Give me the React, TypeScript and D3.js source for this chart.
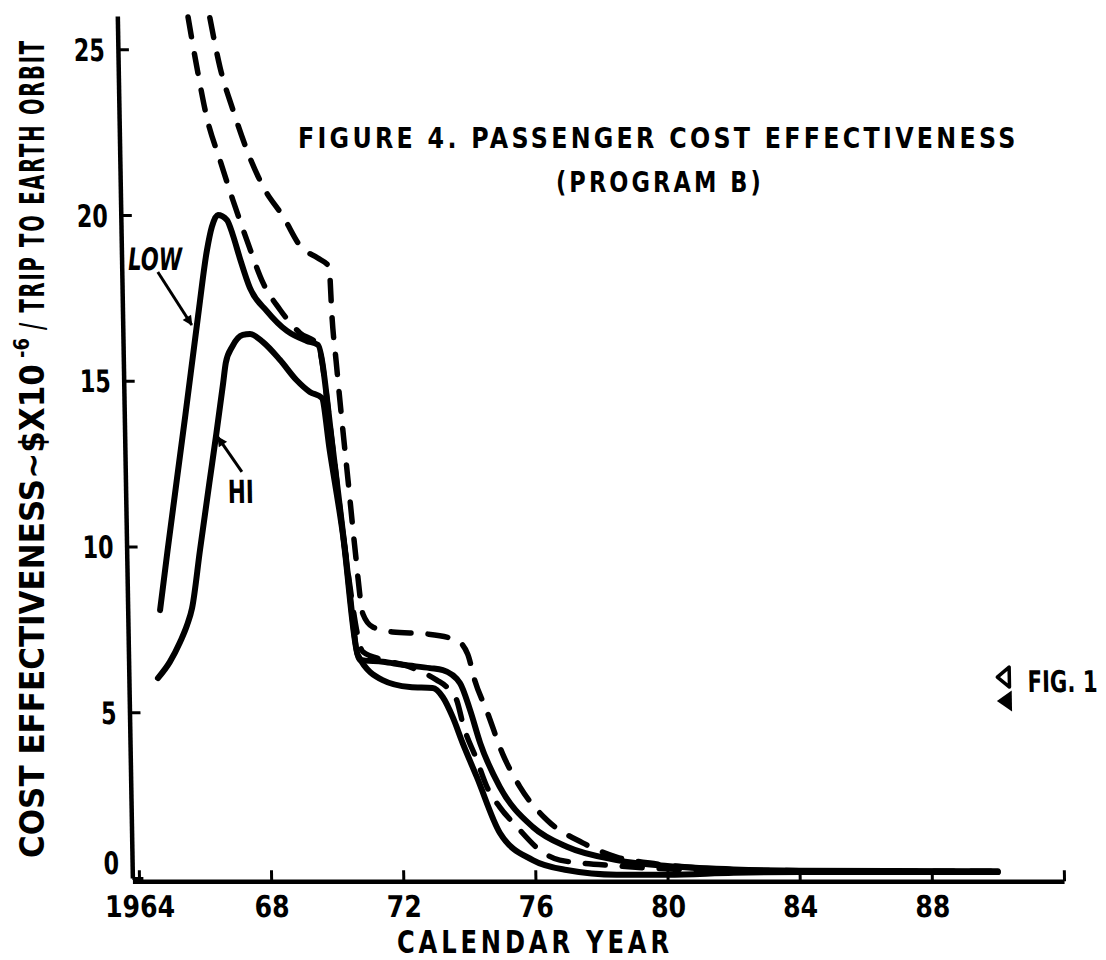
import * as d3 from 'd3';
import { useEffect, useRef } from 'react';

// LOW traffic curve (solid)
const lowYears = [1964.78, 1965.04, 1965.65, 1966.09, 1966.39, 1966.55, 1966.74, 1967.01, 1967.18, 1967.38, 1967.67, 1968.17, 1968.77, 1969.36, 1969.7, 1970.1, 1970.41, 1970.8, 1971.5, 1972.1, 1972.92, 1973.31, 1973.82, 1974.11, 1974.4, 1974.97, 1975.95, 1976.97, 1978.47, 1980.0, 1982.0, 1984.0, 1990.0];
const lowValues = [8.08, 9.89, 13.97, 16.98, 18.94, 19.64, 20.0, 19.85, 19.4, 18.7, 17.8, 17.1, 16.5, 16.2, 16.08, 12.9, 9.9, 6.58, 6.52, 6.43, 6.33, 6.27, 5.88, 5.07, 4.07, 2.75, 1.54, 0.94, 0.54, 0.36, 0.26, 0.22, 0.2];

// HI traffic curve (solid)
const hiYears = [1964.68, 1965.05, 1965.37, 1965.59, 1965.75, 1966.02, 1966.34, 1966.58, 1966.81, 1966.9, 1967.1, 1967.43, 1967.65, 1968.03, 1968.54, 1969.03, 1969.43, 1969.79, 1970.0, 1970.35, 1970.74, 1971.48, 1972.3, 1972.99, 1973.29, 1973.58, 1973.87, 1974.28, 1974.95, 1975.93, 1976.95, 1978.46, 1980.0, 1982.0, 1984.0, 1990.0];
const hiValues = [6.03, 6.52, 7.12, 7.63, 8.14, 9.89, 11.92, 13.42, 14.93, 15.54, 16.02, 16.38, 16.41, 16.17, 15.63, 15.02, 14.66, 14.48, 12.9, 10.4, 6.73, 5.97, 5.76, 5.73, 5.46, 4.86, 4.07, 3.05, 1.36, 0.54, 0.24, 0.1, 0.1, 0.16, 0.18, 0.18];

// inner dashed curve
const dashLowYears = [1965.94, 1966.18, 1966.45, 1966.83, 1967.2, 1967.6, 1968.07, 1968.57, 1969.16, 1969.7, 1970.1, 1970.41, 1970.9, 1971.5, 1972.31, 1973.12, 1973.42, 1973.71, 1973.9, 1974.29, 1974.58, 1974.96, 1975.47, 1976.15, 1976.75, 1978.55, 1980.97, 1984.0, 1990.0];
const dashLowValues = [25.97, 24.46, 22.96, 21.66, 20.45, 19.25, 17.95, 17.14, 16.44, 16.08, 12.9, 9.9, 6.82, 6.58, 6.37, 5.97, 5.76, 5.37, 4.6, 3.56, 2.75, 2.14, 1.54, 0.84, 0.54, 0.36, 0.24, 0.2, 0.18];

// outer dashed curve
const dashHighYears = [1966.6, 1966.88, 1967.25, 1967.65, 1968.13, 1968.72, 1969.24, 1969.74, 1970.08, 1970.14, 1970.24, 1970.37, 1970.54, 1970.71, 1970.92, 1971.21, 1971.81, 1972.84, 1973.74, 1974.07, 1974.27, 1974.62, 1975.08, 1975.58, 1976.38, 1977.45, 1978.47, 1979.47, 1980.98, 1982.2, 1984.0, 1990.0];
const dashHighValues = [25.95, 24.46, 23.17, 21.96, 20.84, 19.94, 19.03, 18.7, 18.43, 16.92, 15.6, 13.97, 11.98, 9.96, 7.96, 7.57, 7.42, 7.36, 7.17, 6.75, 5.96, 5.03, 3.73, 2.75, 1.75, 1.06, 0.63, 0.45, 0.3, 0.24, 0.22, 0.2];

// FIG. 1 reference points
const figOneYears = [1990.27, 1990.29];
const figOneValues = [6.06, 5.34];

const xTickYears = [1964, 1968, 1972, 1976, 1980, 1984, 1988, 1992];
const xTickLabels = ['1964', '68', '72', '76', '80', '84', '88', ''];
const yTickValues = [0, 5, 10, 15, 20, 25];

const App = () => {
    const svgRef = useRef(null);

    useEffect(() => {
        const width = 1106;
        const height = 960;
        const font = "'DejaVu Sans', 'Liberation Sans', sans-serif";

        const svg = d3.select(svgRef.current);
        svg.selectAll('*').remove();
        svg.attr('width', width).attr('height', height);

        svg.append('rect').attr('width', width).attr('height', height).attr('fill', '#fff');

        const x = d3.scaleLinear().domain([1963.8, 1992]).range([132.4, 1064]);
        const y = d3.scaleLinear().domain([0, 26]).range([878, 16]);

        const style = (sel, size) =>
            sel.attr('font-family', font).attr('font-weight', 'bold').attr('font-size', size).attr('fill', '#000');

        // 손글씨 같은 좁은 글자: 측정한 폭에 맞춰 가로로 눌러줌
        const squeeze = (sel, targetWidth) => {
            sel.each(function (d, i) {
                const node = this;
                const target = typeof targetWidth === 'function' ? targetWidth(d, i) : targetWidth;
                const w = node.getComputedTextLength();
                if (!w || !target) return;
                const x0 = +node.getAttribute('x') || 0;
                const y0 = +node.getAttribute('y') || 0;
                node.setAttribute('x', '0');
                node.setAttribute('y', '0');
                node.setAttribute('transform', `translate(${x0},${y0}) scale(${target / w},1)`);
            });
            return sel;
        };

        const defs = svg.append('defs');
        defs.append('marker')
            .attr('id', 'arrow')
            .attr('viewBox', '0 0 10 10')
            .attr('refX', 9)
            .attr('refY', 5)
            .attr('markerWidth', 20)
            .attr('markerHeight', 10)
            .attr('markerUnits', 'userSpaceOnUse')
            .attr('orient', 'auto')
            .append('path')
            .attr('d', 'M0,0 L10,5 L0,10 Z')
            .attr('fill', '#000');

        // the scan is slightly sheared, so the plot is drawn in a skewed frame
        const plot = svg.append('g').attr('transform', 'translate(0,880) skewX(1) translate(0,-880)');

        // Y축
        const yAxis = plot.append('g')
            .attr('transform', `translate(${x(1963.8)},0)`)
            .call(d3.axisLeft(y).tickValues(yTickValues).tickSize(-11).tickSizeOuter(0).tickPadding(13));
        yAxis.select('.domain').attr('stroke-width', 4.5);
        yAxis.selectAll('.tick line').attr('stroke-width', 3);
        const yLabels = style(yAxis.selectAll('.tick text'), 31).attr('dy', (d) => (d === 0 ? '-0.15em' : '0.36em'));
        squeeze(yLabels, (d) => String(d).length * 15.5);

        // X축
        const xAxis = plot.append('g')
            .attr('transform', `translate(0,${y(-0.1)})`)
            .call(
                d3.axisBottom(x)
                    .tickValues(xTickYears)
                    .tickSize(-11)
                    .tickSizeOuter(0)
                    .tickPadding(14)
                    .tickFormat((d, i) => xTickLabels[i])
            );
        xAxis.select('.domain').attr('stroke-width', 4.5);
        xAxis.selectAll('.tick line').attr('stroke-width', 3);
        squeeze(style(xAxis.selectAll('.tick text'), 30), (d, i) => xTickLabels[i].length * 17.5);

        const line = d3
            .line()
            .x((d) => x(d[0]))
            .y((d) => y(d[1]))
            .curve(d3.curveMonotoneX);

        const series = [
            { years: dashHighYears, values: dashHighValues, dashed: true },
            { years: dashLowYears, values: dashLowValues, dashed: true },
            { years: hiYears, values: hiValues, dashed: false },
            { years: lowYears, values: lowValues, dashed: false },
        ];

        series.forEach((s) => {
            plot.append('path')
                .datum(s.years.map((yr, i) => [yr, s.values[i]]))
                .attr('d', line)
                .attr('fill', 'none')
                .attr('stroke', '#000')
                .attr('stroke-width', s.dashed ? 5.5 : 6)
                .attr('stroke-linecap', 'round')
                .attr('stroke-linejoin', 'round')
                .attr('stroke-dasharray', s.dashed ? '20 17' : null);
        });

        // LOW / HI 라벨과 화살표
        squeeze(
            style(plot.append('text'), 31)
                .attr('x', x(1964.0))
                .attr('y', y(18.34))
                .attr('font-style', 'italic')
                .text('LOW'),
            54
        );
        plot.append('line')
            .attr('x1', x(1964.89))
            .attr('y1', y(18.28))
            .attr('x2', x(1965.89))
            .attr('y2', y(16.68))
            .attr('stroke', '#000')
            .attr('stroke-width', 3)
            .attr('marker-end', 'url(#arrow)');

        squeeze(
            style(plot.append('text'), 32)
                .attr('x', x(1966.89))
                .attr('y', y(11.31))
                .text('HI'),
            26
        );
        plot.append('line')
            .attr('x1', x(1967.33))
            .attr('y1', y(12.25))
            .attr('x2', x(1966.62))
            .attr('y2', y(13.3))
            .attr('stroke', '#000')
            .attr('stroke-width', 3)
            .attr('marker-end', 'url(#arrow)');

        // FIG. 1 markers
        const tri = (w, h) => `M${-w / 2},0 L${w / 2},${-h / 2} L${w / 2},${h / 2} Z`;
        plot.append('path')
            .attr('transform', `translate(${x(figOneYears[0])},${y(figOneValues[0])})`)
            .attr('d', tri(12, 20))
            .attr('fill', '#fff')
            .attr('stroke', '#000')
            .attr('stroke-width', 3.5)
            .attr('stroke-linejoin', 'round');
        plot.append('path')
            .attr('transform', `translate(${x(figOneYears[1])},${y(figOneValues[1])})`)
            .attr('d', tri(15, 21))
            .attr('fill', '#000');
        squeeze(
            style(plot.append('text'), 30)
                .attr('x', x(1991.0))
                .attr('y', y(5.94) + 11)
                .text('FIG. 1'),
            70
        );

        // 제목
        squeeze(
            style(svg.append('text'), 29)
                .attr('x', 298)
                .attr('y', 148)
                .attr('letter-spacing', 4)
                .text('FIGURE 4.  PASSENGER COST EFFECTIVENESS'),
            721
        );
        squeeze(
            style(svg.append('text'), 29)
                .attr('x', 556)
                .attr('y', 192)
                .attr('letter-spacing', 4)
                .text('(PROGRAM  B)'),
            208
        );

        // X축 제목
        squeeze(
            style(svg.append('text'), 31.5)
                .attr('x', 397)
                .attr('y', 953)
                .attr('letter-spacing', 5)
                .text('CALENDAR YEAR'),
            276
        );

        // Y축 제목 (세 부분)
        const yTitle = svg.append('g').attr('transform', 'translate(44,858) rotate(-90)');
        squeeze(style(yTitle.append('text'), 33).attr('x', 0).attr('y', 0).text('COST EFFECTIVENESS\u223C$X10'), 494);
        squeeze(style(yTitle.append('text'), 22).attr('x', 500).attr('y', -15).text('-6'), 20);
        squeeze(
            style(yTitle.append('text'), 33)
                .attr('x', 528)
                .attr('y', 0)
                .attr('letter-spacing', 3)
                .text('/ TRIP TO EARTH ORBIT'),
            291
        );
    }, []);

    return <svg ref={svgRef} style={{ position: 'absolute', left: 0, top: 0, display: 'block' }} />;
};

export default App;
